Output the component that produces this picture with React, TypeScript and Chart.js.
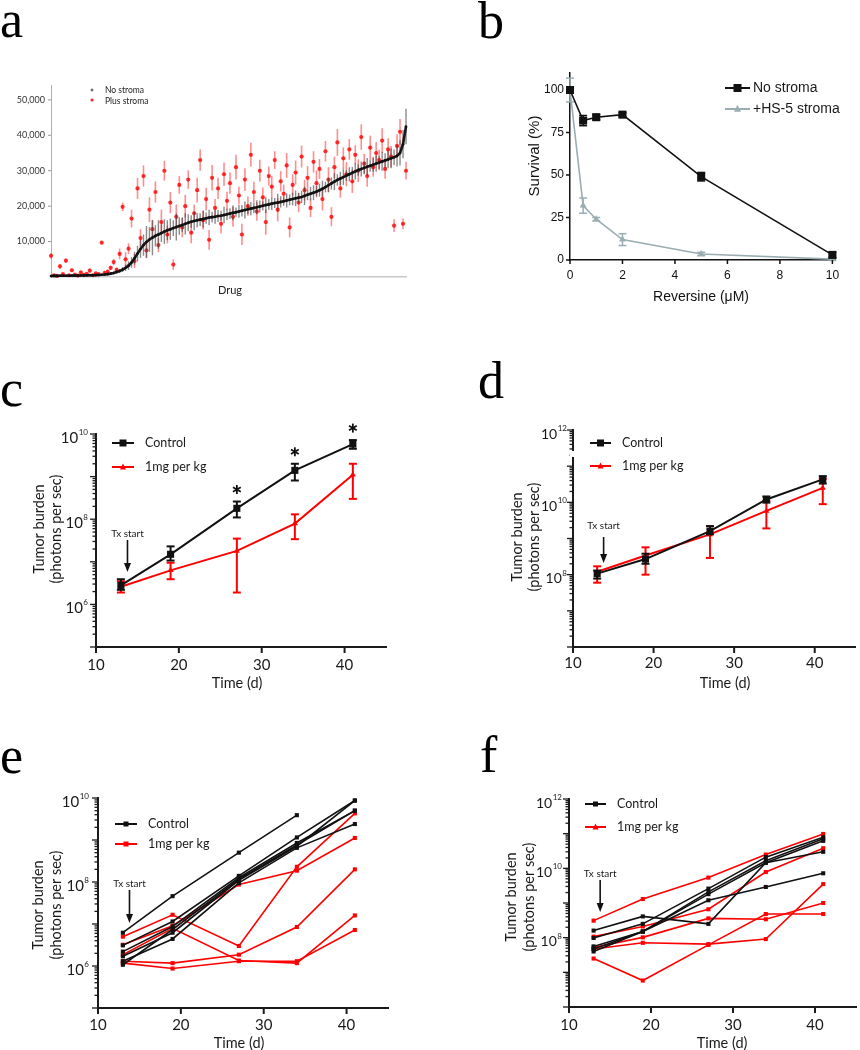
import React, { useEffect, useRef } from "react";
import { Chart, registerables } from "chart.js";

Chart.register(...registerables);

const SANS = "Lato, 'Open Sans', sans-serif";
const ARIAL = "'Liberation Sans', Arial, sans-serif";
const SERIF = "'Liberation Serif', 'Times New Roman', serif";
const RED = "#ff0000";
const BLACK = "#111111";
const GREY = "#9aadb2";

// ---------------- Panel a: drug screen ----------------
const aYTicks = [10000, 20000, 30000, 40000, 50000];
const aNoStroma = [
  300, 320, 330, 340, 350, 360, 370, 380, 390, 400,
  420, 440, 460, 480, 500, 540, 580, 640, 720, 820,
  950, 1150, 1400, 1700, 2100, 2600, 3200, 4100, 5300, 6600,
  7900, 9000, 9900, 10600, 11100, 11600, 12000, 12400, 12800, 13200,
  13500, 13800, 14100, 14400, 14700, 15000, 15300, 15600, 15800, 16000,
  16200, 16400, 16600, 16800, 16900, 17000, 17200, 17300, 17500, 17700,
  17900, 18100, 18300, 18500, 18700, 18900, 19100, 19300, 19500, 19700,
  19900, 20100, 20300, 20500, 20700, 20900, 21000, 21200, 21400, 21600,
  21800, 22000, 22200, 22400, 22600, 22900, 23200, 23500, 23800, 24100,
  24500, 24900, 25400, 25900, 26400, 26900, 27400, 27800, 28200, 28600,
  29000, 29400, 29800, 30200, 30500, 30800, 31100, 31400, 31700, 32000,
  32300, 32600, 32900, 33200, 33500, 33800, 34200, 35000, 37500, 42500,
];
const aNoStromaErr = [
  200, 150, 150, 200, 150, 150, 200, 150, 150, 200,
  150, 200, 150, 200, 250, 200, 250, 300, 300, 350,
  400, 450, 500, 600, 700, 900, 1200, 1500, 1800, 2200,
  2500, 3000, 4500, 3500, 5000, 3000, 4000, 2500, 3500, 2800,
  3000, 2200, 3800, 2500, 2000, 3000, 2400, 1800, 2600, 2000,
  1800, 2400, 1600, 2200, 1500, 2000, 1700, 1400, 2300, 1600,
  1500, 2100, 1300, 1800, 1600, 2400, 1400, 1900, 1500, 2000,
  1700, 1300, 2200, 1500, 1800, 1400, 2500, 1600, 1300, 2000,
  1500, 1800, 2200, 1400, 1700, 2600, 1500, 1900, 2100, 1600,
  1800, 2300, 1500, 2000, 1700, 2400, 1600, 1900, 2200, 1500,
  2000, 1700, 2300, 1600, 2100, 1800, 2500, 1700, 2000, 2300,
  1800, 2600, 2000, 2400, 2800, 2200, 3000, 3500, 4000, 5000,
];
const aPlusStroma = [
  6000, 500, 300, 3000, 800, 4600, 500, 1900, 700, 400,
  1300, 600, 900, 1800, 500, 1000, 800, 9700, 1200, 1500,
  2600, 4200, 2000, 6500, 19800, 5000, 8000, 16500, 4500, 25000,
  11000, 28500, 7500, 19000, 13500, 24000, 9000, 15500, 30000, 12000,
  21000, 3500, 17000, 26000, 14000, 20000, 27500, 12500, 18000, 24500,
  33000, 16000, 22000, 10500, 28000, 19500, 25000, 15000, 29000, 21500,
  26500, 17000, 31000, 23000, 12000, 27500, 20000, 34500, 24000, 18500,
  30000, 22500, 15500, 28500, 25500, 33000, 19000, 27000, 23500, 31500,
  14000, 26000, 29500, 21000, 34000, 24500, 28000, 19500, 32500, 26500,
  30500, 22000, 35500, 27500, 17000, 31000, 38000, 25000, 33500, 29000,
  36000, 27000, 34500, 30000, 39500, 32000, 28500, 36500, 31000, 35000,
  33000, 38500, 30500, 36000, 34000, 14500, 37000, 41000, 15000, 30000,
];
const aPlusStromaErr = [
  800, 200, 200, 700, 250, 600, 200, 500, 250, 200,
  300, 250, 300, 600, 250, 300, 300, 400, 500, 400,
  600, 900, 700, 1500, 1200, 2000, 1500, 2500, 2000, 3000,
  2500, 3000, 2200, 3500, 2500, 3000, 2000, 3500, 2800, 2500,
  3000, 1500, 3500, 2500, 2800, 3200, 2600, 3000, 2400, 3500,
  3000, 2600, 3200, 2800, 3600, 2500, 3000, 2700, 3300, 2600,
  3000, 2800, 3500, 2500, 3000, 3200, 2700, 3400, 2900, 2600,
  3100, 2800, 3600, 2700, 3000, 2500, 3300, 2900, 2600, 3500,
  2800, 3000, 3400, 2700, 3100, 2900, 3300, 2600, 3000, 3600,
  2800, 3200, 2900, 3500, 2700, 3000, 3800, 2600, 3100, 3400,
  2900, 3300, 2700, 3200, 3600, 2800, 3000, 3400, 2700, 3100,
  2900, 3500, 2800, 3200, 3000, 1800, 3300, 3600, 1500, 2500,
];

// ---------------- Panel b: reversine dose response ----------------
const bDose = [0, 0.5, 1, 2, 5, 10];
const bNoStroma = [100, 82, 84, 85.5, 49, 3];
const bNoStromaErr = [1.5, 3, 1.5, 1.2, 2.5, 1.5];
const bHS5 = [100, 32, 24, 12, 3.5, 0.5];
const bHS5Err = [7, 4.5, 1, 3.5, 1, 0.5];
const bYTicks = [0, 25, 50, 75, 100];
const bXTicks = [0, 2, 4, 6, 8, 10];

// ---------------- Shared time axis ----------------
const days = [13, 19, 27, 34, 41];
const timeTicks = [10, 20, 30, 40];
const txStartDay = 13.8;

// ---------------- Panel c ----------------
const cControl = [2.8e6, 1.5e7, 1.8e8, 1.4e9, 5.8e9];
const cControlLo = [2.2e6, 1.07e7, 1.1e8, 8.1e8, 4.5e9];
const cControlHi = [3.9e6, 2.3e7, 2.6e8, 2.0e9, 7.2e9];
const cTreated = [2.6e6, 6.3e6, 1.8e7, 7.9e7, 1.1e9];
const cTreatedLo = [1.9e6, 3.9e6, 1.9e6, 3.4e7, 3.0e8];
const cTreatedHi = [3.5e6, 9.5e6, 3.5e7, 1.3e8, 2.0e9];
const cSignificantDays = [27, 34, 41];
const cYLabelExps = [10, 8, 6];

// ---------------- Panel d ----------------
const dControl = [1.07e8, 2.7e8, 1.6e9, 1.2e10, 4.3e10];
const dControlLo = [7.8e7, 2.0e8, 1.3e9, 9.8e9, 3.3e10];
const dControlHi = [1.3e8, 3.8e8, 2.2e9, 1.45e10, 5.3e10];
const dTreated = [1.2e8, 3.4e8, 1.3e9, 5.8e9, 2.5e10];
const dTreatedLo = [6.0e7, 1.0e8, 2.9e8, 1.9e9, 8.9e9];
const dTreatedHi = [1.7e8, 5.7e8, 2.2e9, 1.1e10, 4.5e10];
const dYLabelExps = [12, 10, 8];

// ---------------- Panel e (individual mice) ----------------
const eControlMice = [
  [6.2e6, 4.6e7, 5.0e8, 3.9e9],
  [3.1e6, 1.15e7, 1.4e8, 1.15e9, 8.7e9],
  [2.2e6, 8.7e6, 1.26e8, 8.5e8, 5.0e9],
  [1.7e6, 6.2e6, 1.1e8, 7.1e8, 8.7e9],
  [1.3e6, 4.4e6, 9.5e7, 6.5e8, 2.4e9],
  [1.07e6, 7.4e6, 1.17e8, 7.6e8, 5.0e9],
];
const eTreatedMice = [
  [5.0e6, 1.66e7, 3.0e6, 2.3e8, 4.3e9],
  [3.2e6, 9.1e6, 8.7e7, 1.86e8, 1.12e9],
  [1.86e6, 7.9e6, 1.35e6, 1.17e6, 1.6e7],
  [1.3e6, 1.17e6, 1.86e6, 8.5e6, 2.0e8],
  [1.17e6, 8.7e5, 1.3e6, 1.3e6, 7.2e6],
];
const eYLabelExps = [10, 8, 6];

// ---------------- Panel f (individual mice) ----------------
const fControlMice = [
  [1.6e8, 4.1e8, 2.5e8, 1.45e10, 6.2e10],
  [9.8e7, 2.5e8, 2.6e9, 2.1e10, 7.9e10],
  [5.6e7, 1.5e8, 2.1e9, 1.66e10, 7.1e10],
  [4.7e7, 1.5e8, 1.8e9, 1.45e10, 3.0e10],
  [4.0e7, 1.5e8, 1.2e9, 2.9e9, 7.2e9],
];
const fTreatedMice = [
  [3.1e8, 1.3e9, 5.4e9, 2.5e10, 9.8e10],
  [1.07e8, 2.1e8, 6.6e8, 7.8e9, 3.8e10],
  [5.2e7, 1.02e8, 3.6e8, 3.4e8, 1.0e9],
  [4.7e7, 7.1e7, 6.5e7, 9.1e7, 3.5e9],
  [2.5e7, 5.8e6, 6.2e7, 4.8e8, 4.8e8],
];
const fYLabelExps = [12, 10, 8];

// ---------------- Layout geometry ----------------
type Geo = { x: number; y: number; w: number; h: number; l: number; r: number; t: number; b: number };
const GEO: Record<string, Geo> = {
  a: { x: 0, y: 0, w: 430, h: 330, l: 51, r: 406, t: 85, b: 277 },
  b: { x: 430, y: 0, w: 430, h: 330, l: 140, r: 405, t: 73, b: 260 },
  c: { x: 0, y: 330, w: 430, h: 370, l: 96, r: 386, t: 104, b: 317 },
  d: { x: 430, y: 330, w: 430, h: 370, l: 143, r: 430, t: 100, b: 317 },
  e: { x: 0, y: 700, w: 430, h: 350, l: 98, r: 388, t: 98, b: 308 },
  f: { x: 430, y: 700, w: 430, h: 350, l: 139, r: 430, t: 99, b: 307 },
};

// ---------------- drawing helpers ----------------
function seg(ctx: CanvasRenderingContext2D, x1: number, y1: number, x2: number, y2: number) {
  ctx.beginPath();
  ctx.moveTo(x1, y1);
  ctx.lineTo(x2, y2);
  ctx.stroke();
}
function label(ctx: any, s: string, x: number, y: number, font: string, color = "#1a1a1a", align = "left", baseline = "middle") {
  ctx.save();
  ctx.font = font;
  ctx.fillStyle = color;
  ctx.textAlign = align;
  ctx.textBaseline = baseline;
  ctx.fillText(s, x, y);
  ctx.restore();
}
function vlabel(ctx: any, s: string, x: number, y: number, font: string, color = "#1a1a1a") {
  ctx.save();
  ctx.translate(x, y);
  ctx.rotate(-Math.PI / 2);
  ctx.font = font;
  ctx.fillStyle = color;
  ctx.textAlign = "center";
  ctx.textBaseline = "middle";
  ctx.fillText(s, 0, 0);
  ctx.restore();
}
function square(ctx: any, x: number, y: number, s: number, color: string) {
  ctx.fillStyle = color;
  ctx.fillRect(x - s / 2, y - s / 2, s, s);
}
function triangle(ctx: any, x: number, y: number, s: number, color: string) {
  ctx.fillStyle = color;
  ctx.beginPath();
  ctx.moveTo(x, y - s * 0.6);
  ctx.lineTo(x + s / 2, y + s * 0.4);
  ctx.lineTo(x - s / 2, y + s * 0.4);
  ctx.closePath();
  ctx.fill();
}
function arrowDown(ctx: any, x: number, y1: number, y2: number) {
  ctx.save();
  ctx.strokeStyle = BLACK;
  ctx.fillStyle = BLACK;
  ctx.lineWidth = 1.6;
  seg(ctx, x, y1, x, y2 - 6);
  ctx.beginPath();
  ctx.moveTo(x - 3.5, y2 - 9);
  ctx.lineTo(x + 3.5, y2 - 9);
  ctx.lineTo(x, y2);
  ctx.closePath();
  ctx.fill();
  ctx.restore();
}
function asterisk(ctx: any, x: number, y: number, r: number) {
  ctx.save();
  ctx.strokeStyle = BLACK;
  ctx.lineWidth = 1.8;
  for (const a of [90, 30, -30]) {
    const rad = (a * Math.PI) / 180;
    seg(ctx, x - r * Math.cos(rad), y - r * Math.sin(rad), x + r * Math.cos(rad), y + r * Math.sin(rad));
  }
  ctx.restore();
}
function legendRow(ctx: any, x1: number, x2: number, y: number, color: string, marker: string, size: number, text: string, textX: number, font: string) {
  ctx.save();
  ctx.strokeStyle = color;
  ctx.lineWidth = 2;
  seg(ctx, x1, y, x2, y);
  const mx = (x1 + x2) / 2;
  if (marker === "square") square(ctx, mx, y, size, color);
  else triangle(ctx, mx, y, size, color);
  ctx.restore();
  label(ctx, text, textX, y, font);
}
function errorBarsLoHi(ctx: any, chart: any, xs: number[], lo: number[], hi: number[], color: string, lw: number, cap: number) {
  const sx = chart.scales.x;
  const sy = chart.scales.y;
  ctx.save();
  ctx.strokeStyle = color;
  ctx.lineWidth = lw;
  xs.forEach((xv, i) => {
    const px = sx.getPixelForValue(xv);
    const p1 = sy.getPixelForValue(lo[i]);
    const p2 = sy.getPixelForValue(hi[i]);
    seg(ctx, px, p1, px, p2);
    seg(ctx, px - cap / 2, p1, px + cap / 2, p1);
    seg(ctx, px - cap / 2, p2, px + cap / 2, p2);
  });
  ctx.restore();
}
function drawTimeAxis(ctx: any, chart: any, labelY: number, titleX: number, titleY: number) {
  const sx = chart.scales.x;
  const y0 = chart.chartArea.bottom;
  ctx.save();
  ctx.strokeStyle = "#1a1a1a";
  ctx.lineWidth = 2;
  timeTicks.forEach((v) => {
    const px = sx.getPixelForValue(v);
    seg(ctx, px, y0, px, y0 + 6);
  });
  ctx.restore();
  timeTicks.forEach((v) => label(ctx, String(v), sx.getPixelForValue(v), labelY, `15px ${SANS}`, "#1a1a1a", "center"));
  label(ctx, "Time (d)", titleX, titleY, `14.5px ${SANS}`, "#1a1a1a", "center");
}
function drawLogAxis(ctx: any, chart: any, minExp: number, maxExp: number, labelExps: number[], labelRight: number, baseSize: number) {
  const sy = chart.scales.y;
  const x0 = chart.chartArea.left;
  ctx.save();
  ctx.strokeStyle = "#1a1a1a";
  ctx.lineWidth = 1.3;
  for (let e = minExp; e <= maxExp; e++) {
    for (let m = 1; m <= 9; m++) {
      if (e === maxExp && m > 1) break;
      const py = sy.getPixelForValue(m * Math.pow(10, e));
      const len = m === 1 ? 6 : 3.5;
      seg(ctx, x0 - len, py, x0, py);
    }
  }
  ctx.restore();
  labelExps.forEach((e) => {
    const py = sy.getPixelForValue(Math.pow(10, e));
    ctx.save();
    ctx.fillStyle = "#1a1a1a";
    ctx.textBaseline = "alphabetic";
    ctx.textAlign = "left";
    ctx.font = `${Math.round(baseSize * 0.55)}px ${SANS}`;
    const sup = String(e);
    const sw = ctx.measureText(sup).width;
    ctx.fillText(sup, labelRight - sw, py + 1);
    ctx.font = `${baseSize}px ${SANS}`;
    const bw = ctx.measureText("10").width;
    ctx.fillText("10", labelRight - sw - bw - 0.5, py + 8.5);
    ctx.restore();
  });
}

function baseOptions(g: Geo, xScale: any, yScale: any) {
  return {
    responsive: false,
    maintainAspectRatio: false,
    animation: false,
    devicePixelRatio: 1,
    events: [],
    layout: { padding: { left: g.l - 10, right: g.w - g.r, top: g.t, bottom: g.h - g.b - 10 } },
    plugins: { legend: { display: false }, tooltip: { enabled: false }, title: { display: false } },
    scales: {
      x: { ...xScale, afterFit: (s: any) => { s.height = 10; }, grid: { display: false }, ticks: { display: false } },
      y: { ...yScale, afterFit: (s: any) => { s.width = 10; }, grid: { display: false }, ticks: { display: false } },
    },
  };
}
function timeLogOptions(g: Geo, yMin: number, yMax: number) {
  return baseOptions(
    g,
    { type: "linear", min: 10, max: 45, border: { color: "#1a1a1a", width: 2 } },
    { type: "logarithmic", min: yMin, max: yMax, border: { color: "#1a1a1a", width: 2 } }
  );
}
function pts(xs: number[], ys: number[]) {
  return ys.map((v, i) => ({ x: xs[i], y: v }));
}

// ---------------- Panel configs ----------------
function makeA() {
  const g = GEO.a;
  const plugin = {
    id: "panelA",
    beforeDatasetDraw(chart: any, args: any) {
      const ctx = chart.ctx;
      const sx = chart.scales.x;
      const sy = chart.scales.y;
      const vals = args.index === 0 ? aNoStroma : aPlusStroma;
      const errs = args.index === 0 ? aNoStromaErr : aPlusStromaErr;
      ctx.save();
      ctx.strokeStyle = args.index === 0 ? "rgba(60,60,60,0.6)" : "rgba(255,30,30,0.5)";
      ctx.lineWidth = args.index === 0 ? 1.4 : 1.6;
      vals.forEach((v, i) => {
        const px = sx.getPixelForValue(i);
        seg(ctx, px, sy.getPixelForValue(Math.max(0, v - errs[i])), px, sy.getPixelForValue(v + errs[i]));
      });
      ctx.restore();
    },
    afterDraw(chart: any) {
      const ctx = chart.ctx;
      const sy = chart.scales.y;
      const x0 = chart.chartArea.left;
      ctx.save();
      ctx.strokeStyle = "#9a9a9a";
      ctx.lineWidth = 1;
      aYTicks.forEach((v) => {
        const py = sy.getPixelForValue(v);
        seg(ctx, x0 - 3, py, x0, py);
        label(ctx, v.toLocaleString("en-US"), x0 - 6, py, `9px ${SANS}`, "#333", "right");
      });
      ctx.restore();
      label(ctx, "Drug", 230, 290, `11px ${SANS}`, "#222", "center");
      // legend
      ctx.save();
      ctx.strokeStyle = "#444";
      ctx.lineWidth = 1;
      seg(ctx, 90.5, 90, 93.5, 90);
      seg(ctx, 92, 88.5, 92, 91.5);
      ctx.restore();
      ctx.save();
      ctx.fillStyle = "rgba(255,0,0,0.85)";
      ctx.beginPath();
      ctx.arc(92, 100, 1.6, 0, Math.PI * 2);
      ctx.fill();
      ctx.restore();
      label(ctx, "No stroma", 105, 90, `8.5px ${SANS}`, "#222");
      label(ctx, "Plus stroma", 105, 101, `8.5px ${SANS}`, "#222");
      label(ctx, "a", 0, 37, `52px ${SERIF}`, "#000", "left", "alphabetic");
    },
  };
  return {
    type: "line",
    data: {
      datasets: [
        { data: pts(aNoStroma.map((_, i) => i), aNoStroma), borderColor: "rgba(15,15,15,0.95)", borderWidth: 2.6, pointRadius: 1.3, pointBorderWidth: 0, pointBackgroundColor: "#111", clip: false },
        { data: pts(aPlusStroma.map((_, i) => i), aPlusStroma), showLine: false, pointRadius: 2.1, pointBorderWidth: 0, pointBackgroundColor: "rgba(255,0,0,0.8)", clip: false },
      ],
    },
    options: baseOptions(
      g,
      { type: "linear", min: 0, max: aNoStroma.length - 1, border: { color: "#c8c8c8", width: 1.5 } },
      { type: "linear", min: 0, max: 54200, border: { color: "#b0b0b0", width: 1 } }
    ),
    plugins: [plugin],
  };
}

function makeB() {
  const g = GEO.b;
  const plugin = {
    id: "panelB",
    beforeDatasetDraw(chart: any, args: any) {
      const vals = args.index === 0 ? bNoStroma : bHS5;
      const errs = args.index === 0 ? bNoStromaErr : bHS5Err;
      errorBarsLoHi(chart.ctx, chart, bDose, vals.map((v, i) => v - errs[i]), vals.map((v, i) => v + errs[i]), args.index === 0 ? BLACK : GREY, 1.5, 8);
    },
    afterDraw(chart: any) {
      const ctx = chart.ctx;
      const sx = chart.scales.x;
      const sy = chart.scales.y;
      const { left, bottom } = chart.chartArea;
      ctx.save();
      ctx.strokeStyle = "#111";
      ctx.lineWidth = 1.5;
      bYTicks.forEach((v) => {
        const py = sy.getPixelForValue(v);
        seg(ctx, left - 4, py, left, py);
        label(ctx, String(v), left - 6, py, `12px ${ARIAL}`, "#111", "right");
      });
      bXTicks.forEach((v) => {
        const px = sx.getPixelForValue(v);
        seg(ctx, px, bottom, px, bottom + 4);
        label(ctx, String(v), px, 276, `12px ${ARIAL}`, "#111", "center");
      });
      ctx.restore();
      label(ctx, "Reversine (\u03bcM)", 271, 297, `14px ${ARIAL}`, "#111", "center");
      vlabel(ctx, "Survival (%)", 105, 156, `15px ${ARIAL}`, "#111");
      legendRow(ctx, 295, 320, 88, BLACK, "square", 8, "No stroma", 323, `14px ${ARIAL}`);
      legendRow(ctx, 295, 320, 109, GREY, "triangle", 7, "+HS-5 stroma", 323, `14px ${ARIAL}`);
      label(ctx, "b", 48, 38, `52px ${SERIF}`, "#000", "left", "alphabetic");
    },
  };
  return {
    type: "line",
    data: {
      datasets: [
        { data: pts(bDose, bNoStroma), borderColor: BLACK, borderWidth: 1.6, pointStyle: "rect", pointRadius: 5.7, pointBorderWidth: 0, pointBackgroundColor: BLACK, clip: false },
        { data: pts(bDose, bHS5), borderColor: GREY, borderWidth: 1.6, pointStyle: "triangle", pointRadius: 4, pointBorderWidth: 0, pointBackgroundColor: GREY, clip: false },
      ],
    },
    options: baseOptions(
      g,
      { type: "linear", min: 0, max: 10.1, border: { color: "#111", width: 1.5 } },
      { type: "linear", min: 0, max: 110, border: { color: "#111", width: 1.5 } }
    ),
    plugins: [plugin],
  };
}

function meanPanel(key: string, letter: string, letterX: number, letterBase: number, yMin: number, yMax: number,
  ctrl: number[], ctrlLo: number[], ctrlHi: number[], trt: number[], trtLo: number[], trtHi: number[],
  labelExps: number[], minExp: number, maxExp: number, t: any) {
  const g = GEO[key];
  const plugin = {
    id: "panel" + key,
    beforeDatasetDraw(chart: any, args: any) {
      if (args.index === 0) errorBarsLoHi(chart.ctx, chart, days, ctrlLo, ctrlHi, BLACK, 2, 8);
      else errorBarsLoHi(chart.ctx, chart, days, trtLo, trtHi, RED, 2, 8);
    },
    afterDraw(chart: any) {
      const ctx = chart.ctx;
      drawLogAxis(ctx, chart, minExp, maxExp, labelExps, t.labelRight, t.base);
      drawTimeAxis(ctx, chart, t.xLabelY, t.titleX, t.titleY);
      vlabel(ctx, "Tumor burden", t.yt1, t.ytY, `14.5px ${SANS}`);
      vlabel(ctx, "(photons per sec)", t.yt2, t.ytY, `14.5px ${SANS}`);
      legendRow(ctx, t.lx1, t.lx2, t.ly1, BLACK, "square", 7, "Control", t.ltx, `12.5px ${SANS}`);
      legendRow(ctx, t.lx1, t.lx2, t.ly2, RED, "triangle", 6, "1mg per kg", t.ltx, `12.5px ${SANS}`);
      label(ctx, "Tx start", chart.scales.x.getPixelForValue(txStartDay), t.txY, `10px ${SANS}`, "#1a1a1a", "center");
      arrowDown(ctx, chart.scales.x.getPixelForValue(txStartDay), t.arrowY1, t.arrowY2);
      if (t.stars) {
        t.stars.forEach((d: number) => {
          const i = days.indexOf(d);
          asterisk(ctx, chart.scales.x.getPixelForValue(d), chart.scales.y.getPixelForValue(ctrlHi[i]) - 12, 4.5);
        });
      }
      if (t.breakY) {
        ctx.save();
        ctx.fillStyle = "#fff";
        ctx.fillRect(chart.chartArea.left - 3, t.breakY, 5, 6);
        ctx.restore();
      }
      label(ctx, letter, letterX, letterBase, `52px ${SERIF}`, "#000", "left", "alphabetic");
    },
  };
  return {
    type: "line",
    data: {
      datasets: [
        { data: pts(days, ctrl), borderColor: BLACK, borderWidth: 2, pointStyle: "rect", pointRadius: 5, pointBorderWidth: 0, pointBackgroundColor: BLACK, clip: false },
        { data: pts(days, trt), borderColor: RED, borderWidth: 2, pointStyle: "triangle", pointRadius: 3.5, pointBorderWidth: 0, pointBackgroundColor: RED, clip: false },
      ],
    },
    options: timeLogOptions(g, yMin, yMax),
    plugins: [plugin],
  };
}

function makeC() {
  return meanPanel("c", "c", 0, 76, 1e5, 1e10, cControl, cControlLo, cControlHi, cTreated, cTreatedLo, cTreatedHi, cYLabelExps, 5, 10, {
    labelRight: 88, base: 15, xLabelY: 335, titleX: 237, titleY: 353, yt1: 39, yt2: 56.5, ytY: 199,
    lx1: 112, lx2: 134, ly1: 113, ly2: 137, ltx: 145, txY: 204, arrowY1: 210, arrowY2: 242, stars: cSignificantDays,
  });
}
function makeD() {
  return meanPanel("d", "d", 48, 68, 1e6, 1e12, dControl, dControlLo, dControlHi, dTreated, dTreatedLo, dTreatedHi, dYLabelExps, 6, 12, {
    labelRight: 137, base: 14, xLabelY: 333, titleX: 295, titleY: 353, yt1: 87, yt2: 104, ytY: 207,
    lx1: 160, lx2: 181, ly1: 113, ly2: 136, ltx: 192, txY: 196, arrowY1: 207, arrowY2: 233, breakY: 121,
  });
}

function micePanel(key: string, letter: string, letterX: number, letterBase: number, yMin: number, yMax: number,
  ctrlMice: number[][], trtMice: number[][], labelExps: number[], minExp: number, maxExp: number, redLegend: string, t: any) {
  const g = GEO[key];
  const plugin = {
    id: "panel" + key,
    afterDraw(chart: any) {
      const ctx = chart.ctx;
      drawLogAxis(ctx, chart, minExp, maxExp, labelExps, t.labelRight, t.base);
      drawTimeAxis(ctx, chart, t.xLabelY, t.titleX, t.titleY);
      vlabel(ctx, "Tumor burden", t.yt1, t.ytY, `14.5px ${SANS}`);
      vlabel(ctx, "(photons per sec)", t.yt2, t.ytY, `14.5px ${SANS}`);
      legendRow(ctx, t.lx1, t.lx2, t.ly1, BLACK, "square", 5, "Control", t.ltx, `12.5px ${SANS}`);
      legendRow(ctx, t.lx1, t.lx2, t.ly2, RED, redLegend, redLegend === "square" ? 5 : 6, "1mg per kg", t.ltx, `12.5px ${SANS}`);
      label(ctx, "Tx start", chart.scales.x.getPixelForValue(txStartDay), t.txY, `10px ${SANS}`, "#1a1a1a", "center");
      arrowDown(ctx, chart.scales.x.getPixelForValue(txStartDay), t.arrowY1, t.arrowY2);
      label(ctx, letter, letterX, letterBase, `52px ${SERIF}`, "#000", "left", "alphabetic");
    },
  };
  const ds = (rows: number[][], color: string) =>
    rows.map((r) => ({
      data: pts(days.slice(0, r.length), r),
      borderColor: color,
      borderWidth: 1.6,
      pointStyle: "rect",
      pointRadius: 2.9,
      pointBorderWidth: 0,
      pointBackgroundColor: color,
      clip: false,
    }));
  return {
    type: "line",
    data: { datasets: [...ds(ctrlMice, BLACK), ...ds(trtMice, RED)] },
    options: timeLogOptions(g, yMin, yMax),
    plugins: [plugin],
  };
}
function makeE() {
  return micePanel("e", "e", 0, 73, 1e5, 1e10, eControlMice, eTreatedMice, eYLabelExps, 5, 10, "square", {
    labelRight: 89, base: 15, xLabelY: 325, titleX: 239, titleY: 343, yt1: 38, yt2: 56, ytY: 205,
    lx1: 115, lx2: 137, ly1: 124, ly2: 144, ltx: 148, txY: 184, arrowY1: 190, arrowY2: 223,
  });
}
function makeF() {
  return micePanel("f", "f", 50, 72, 1e6, 1e12, fControlMice, fTreatedMice, fYLabelExps, 6, 12, "triangle", {
    labelRight: 132, base: 14, xLabelY: 325, titleX: 292, titleY: 343, yt1: 81, yt2: 99, ytY: 197,
    lx1: 155, lx2: 176, ly1: 104, ly2: 127, ltx: 187, txY: 174, arrowY1: 180, arrowY2: 212,
  });
}

function ChartPanel({ g, make }: { g: Geo; make: () => any }) {
  const ref = useRef<HTMLCanvasElement | null>(null);
  useEffect(() => {
    const chart = new Chart(ref.current as HTMLCanvasElement, make());
    return () => chart.destroy();
  }, []);
  return (
    <canvas
      ref={ref}
      width={g.w}
      height={g.h}
      style={{ position: "absolute", left: g.x, top: g.y, width: g.w, height: g.h }}
    />
  );
}

export default function App() {
  return (
    <div style={{ position: "absolute", left: 0, top: 0, width: 860, height: 1050, background: "#fff", overflow: "hidden" }}>
      <ChartPanel g={GEO.a} make={makeA} />
      <ChartPanel g={GEO.b} make={makeB} />
      <ChartPanel g={GEO.c} make={makeC} />
      <ChartPanel g={GEO.d} make={makeD} />
      <ChartPanel g={GEO.e} make={makeE} />
      <ChartPanel g={GEO.f} make={makeF} />
    </div>
  );
}
